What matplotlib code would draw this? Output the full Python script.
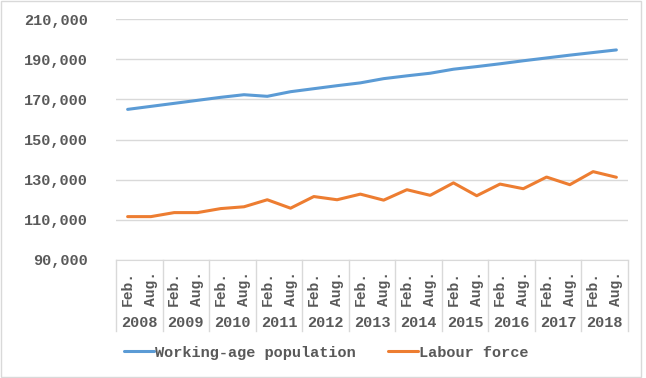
import matplotlib.pyplot as plt
import matplotlib.transforms as mtransforms
from matplotlib.patches import Rectangle

years = ["2008", "2009", "2010", "2011", "2012", "2013", "2014", "2015", "2016", "2017", "2018"]
months = ["Feb.", "Aug."]

working_age = [165000, 166500, 168000, 169500, 171000, 172300, 171500, 173800, 175300, 176800, 178200,
               180300, 181700, 183000, 185000, 186300, 187700, 189200, 190600, 192000, 193300, 194600]
labour_force = [111600, 111600, 113600, 113600, 115600, 116500, 120000, 115800, 121600, 120000, 122800,
                119800, 125000, 122200, 128400, 122000, 127800, 125500, 131300, 127500, 134000, 131200]

grey = "#d9d9d9"
text_col = "#595959"
font = dict(family="Liberation Mono", weight="bold", size=11, color=text_col)

fig = plt.figure(figsize=(6.46, 3.78), dpi=100)
ax = fig.add_axes([116 / 646, 1 - 260 / 378, 512 / 646, 241 / 378])

x = list(range(len(working_age)))
ax.plot(x, working_age, color="#5B9BD5", lw=2.2, label="Working-age population", solid_capstyle="round")
ax.plot(x, labour_force, color="#ED7D31", lw=2.2, label="Labour force", solid_capstyle="round")

ax.set_xlim(-0.5, len(x) - 0.5)
ax.set_ylim(90000, 210000)
ax.set_yticks(range(90000, 210001, 20000))
ax.set_yticklabels([f"{v:,}" for v in range(90000, 210001, 20000)], fontdict=font)
ax.grid(axis="y", color=grey, lw=1)
ax.set_axisbelow(True)
ax.tick_params(axis="y", length=0, pad=20)
for s in ["left", "right", "top"]:
    ax.spines[s].set_visible(False)
ax.spines["bottom"].set_color(grey)

# two-level category axis
ax.set_xticks(x)
ax.set_xticklabels(months * len(years), rotation=90, fontdict=dict(font, size=10.5))
ax.tick_params(axis="x", length=0, pad=8)

trans = mtransforms.blended_transform_factory(ax.transData, fig.transFigure)
for i, yr in enumerate(years):
    ax.text(2 * i + 0.5, 1 - 322.7 / 378, yr, transform=trans, ha="center", va="center", **font)
for b in range(len(years) + 1):
    ax.plot([2 * b - 0.5, 2 * b - 0.5], [1 - 260 / 378, 1 - 330.5 / 378], transform=trans,
            color=grey, lw=1, clip_on=False)

fig.legend(loc="center", bbox_to_anchor=(0.505, 1 - 352.7 / 378), ncol=2, frameon=False,
           prop=dict(family="Liberation Mono", weight="bold", size=11),
           handlelength=2.0, handletextpad=0.05, columnspacing=2.1, labelcolor=text_col)

fig.patches.append(Rectangle((0.001, 0.003), 0.992, 0.994, transform=fig.transFigure,
                             fill=False, edgecolor=grey, lw=1))

fig.savefig("out.png", dpi=100)
